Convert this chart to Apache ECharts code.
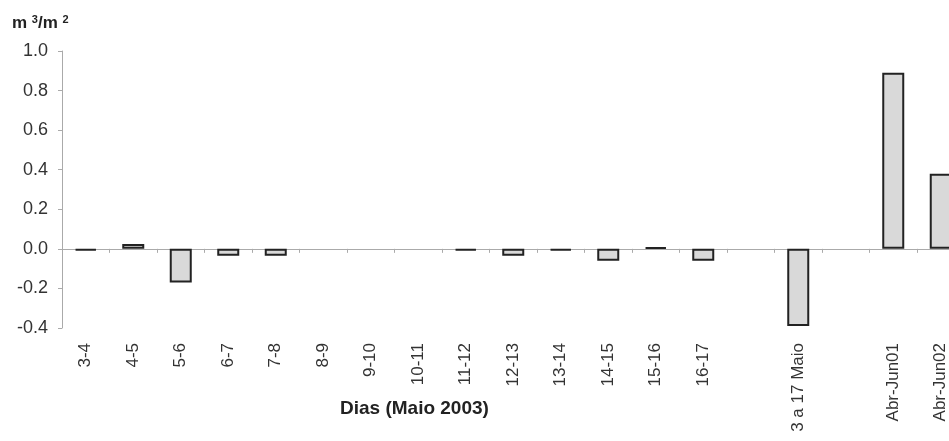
<!DOCTYPE html>
<html>
<head>
<meta charset="utf-8">
<script src="https://cdn.jsdelivr.net/npm/echarts@6/dist/echarts.min.js"></script>
<style>
html,body{margin:0;padding:0;background:#fff;}
#chart{width:949px;height:441px;}
</style>
</head>
<body>
<div id="chart"></div>
<script>
// ---- data ----
var categories = ['3-4','4-5','5-6','6-7','7-8','8-9','9-10','10-11','11-12','12-13','13-14','14-15','15-16','16-17','','3 a 17 Maio','','Abr-Jun01','Abr-Jun02'];
var values = [-0.008, 0.025, -0.17, -0.035, -0.035, null, null, null, -0.008, -0.035, -0.008, -0.06, 0.008, -0.06, null, -0.39, null, 0.89, 0.38];
var yTicks = {min: -0.4, max: 1.0, step: 0.2};
var xAxisTitle = 'Dias (Maio 2003)';

var FONT = '"Liberation Sans", Arial, sans-serif';
var chart = echarts.init(document.getElementById('chart'), null, {renderer: 'canvas'});
chart.setOption({
  animation: false,
  backgroundColor: '#ffffff',
  graphic: [{
    type: 'text', left: 12, top: 14,
    style: {
      text: 'm {s|3}/m {s|2}',
      font: 'bold 17px ' + FONT, fill: '#222',
      rich: {s: {fontSize: 11, fontWeight: 'bold', fontFamily: FONT, verticalAlign: 'top', padding: [0, 0, 8, 0], fill: '#222'}}
    }
  }, {
    type: 'text', left: 340, top: 399,
    style: {text: xAxisTitle, font: 'bold 19px ' + FONT, fill: '#222'}
  }],
  grid: {left: 62, top: 51, width: 902.5, height: 277, containLabel: false, outerBoundsMode: 'none'},
  xAxis: [{
    type: 'category', data: categories, position: 'bottom',
    axisLine: {show: false, onZero: false},
    axisTick: {show: false},
    axisLabel: {rotate: 90, interval: 0, margin: 15, fontFamily: FONT, fontSize: 17, color: '#333'}
  }, {
    type: 'category', data: categories, position: 'bottom',
    axisLine: {show: true, onZero: true, lineStyle: {color: '#aaa', width: 1}},
    axisTick: {show: true, interval: 0, length: 4, lineStyle: {color: '#aaa'}},
    axisLabel: {show: false}
  }],
  yAxis: {
    type: 'value', min: yTicks.min, max: yTicks.max, interval: yTicks.step,
    axisLine: {show: true, lineStyle: {color: '#aaa', width: 1}},
    axisTick: {show: true, length: 4, lineStyle: {color: '#aaa'}},
    splitLine: {show: false},
    axisLabel: {margin: 14, fontFamily: FONT, fontSize: 18, color: '#333',
      formatter: function (v) { return v.toFixed(1); }}
  },
  series: [{
    type: 'bar', xAxisIndex: 0, data: values, barWidth: 22,
    itemStyle: {color: '#d9d9d9', borderColor: '#222', borderWidth: 2}
  }]
});
</script>
</body>
</html>
